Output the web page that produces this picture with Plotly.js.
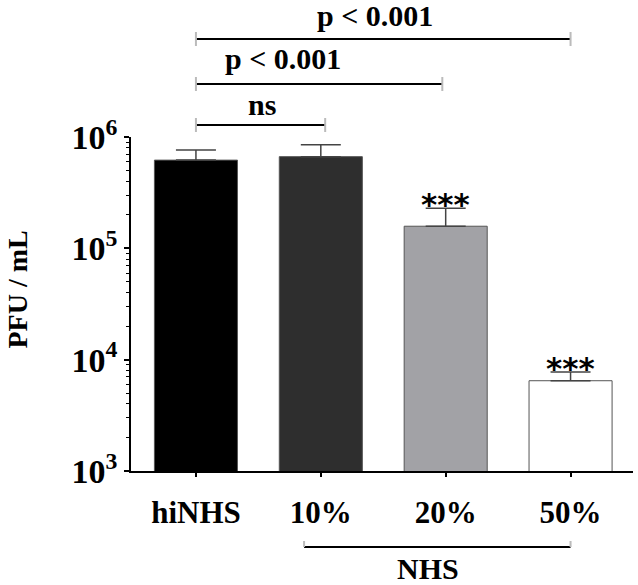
<!DOCTYPE html>
<html>
<head>
<meta charset="utf-8">
<script src="https://cdn.plot.ly/plotly-3.0.1.min.js"></script>
<style>
  body { margin: 0; background: #fff; }
  #chart { width: 638px; height: 585px; }
</style>
</head>
<body>
<div id="chart"></div>
<script>
// PFU per mL after incubation with serum
var groups = ['hiNHS', '10%', '20%', '50%'];
var pfu = [620000, 666000, 158000, 6470];
var errUp = [144000, 187000, 71000, 1270];
var barColors = ['#000000', '#2e2e2e', '#a2a2a6', '#ffffff'];
var stars = ['', '', '***', '***'];
var yTickVals = [1e3, 1e4, 1e5, 1e6];
var yTickText = ['10<sup>3</sup>', '10<sup>4</sup>', '10<sup>5</sup>', '10<sup>6</sup>'];

// comparison brackets: [from, to, label]
var brackets = [
  { x0: 0, x1: 3, y: 1.2934, label: 'p < 0.001', lx: 1.435, ly: 1.3623 },
  { x0: 0, x1: 1.973, y: 1.1587, label: 'p < 0.001', lx: 0.70, ly: 1.2365 },
  { x0: 0, x1: 1.035, y: 1.0359, label: 'ns', lx: 0.53, ly: 1.0988 }
];

var serif = { family: 'Liberation Serif, Times New Roman, serif', size: 30, color: '#000', weight: 'bold' };

var trace = {
  type: 'bar',
  x: groups,
  y: pfu,
  width: 0.665,
  marker: { color: barColors, line: { color: '#555', width: 1 } },
  error_y: {
    type: 'data', symmetric: false,
    array: errUp, arrayminus: pfu.map(function() { return 0; }),
    color: '#444', thickness: 1.5, width: 20
  },
  hoverinfo: 'x+y'
};

var shapes = [];
var annotations = [];
brackets.forEach(function(b) {
  shapes.push({ type: 'line', xref: 'x', yref: 'paper', x0: b.x0, x1: b.x1, y0: b.y, y1: b.y,
    line: { color: '#000', width: 2 } });
  [b.x0, b.x1].forEach(function(xx) {
    shapes.push({ type: 'line', xref: 'x', yref: 'paper', x0: xx, x1: xx, y0: b.y - 0.021, y1: b.y + 0.021,
      line: { color: '#bbb', width: 2 } });
  });
  annotations.push({ xref: 'x', yref: 'paper', x: b.lx, y: b.ly, text: b.label, showarrow: false,
    xanchor: 'center', yanchor: 'middle', font: serif });
});

// NHS bracket under the axis
shapes.push({ type: 'line', xref: 'x', yref: 'paper', x0: 0.866, x1: 3, y0: -0.2275, y1: -0.2275,
  line: { color: '#000', width: 2 } });
[0.866, 3].forEach(function(xx) {
  shapes.push({ type: 'line', xref: 'x', yref: 'paper', x0: xx, x1: xx, y0: -0.2275, y1: -0.2096,
    line: { color: '#bbb', width: 2 } });
});
annotations.push({ xref: 'x', yref: 'paper', x: 1.86, y: -0.293, text: 'NHS', showarrow: false,
  xanchor: 'center', yanchor: 'middle', font: serif });

// significance stars above error bars
groups.forEach(function(g, i) {
  if (!stars[i]) return;
  annotations.push({ xref: 'x', yref: 'y', x: g, y: Math.log10(pfu[i] + errUp[i]), yshift: 4,
    text: stars[i], showarrow: false, xanchor: 'center', yanchor: 'middle',
    font: { family: 'DejaVu Sans, sans-serif', size: 31, color: '#000', weight: 'bold' } });
});

// y title as an annotation so it can sit slightly above centre
annotations.push({ xref: 'paper', yref: 'paper', x: -0.226, y: 0.542, text: 'PFU / mL', textangle: -90,
  showarrow: false, xanchor: 'center', yanchor: 'middle',
  font: { family: serif.family, size: 28, color: '#000', weight: 'bold' } });

var layout = {
  width: 638,
  height: 585,
  margin: { l: 131, r: 5, t: 137, b: 114 },
  paper_bgcolor: '#fff',
  plot_bgcolor: '#fff',
  showlegend: false,
  xaxis: {
    type: 'category',
    range: [-0.52, 3.5],
    showline: true, linecolor: '#000', linewidth: 1.5,
    ticks: 'outside', ticklen: 4, tickcolor: '#000', tickwidth: 1.5,
    ticklabelstandoff: 9,
    tickfont: { family: serif.family, size: 31, color: '#000', weight: 'bold' },
    showgrid: false, zeroline: false
  },
  yaxis: {
    type: 'log',
    range: [3, 6],
    showline: true, linecolor: '#000', linewidth: 1.5,
    ticks: 'outside', ticklen: 5, tickcolor: '#000', tickwidth: 1.5,
    tickvals: yTickVals, ticktext: yTickText,
    tickfont: { family: serif.family, size: 34, color: '#000', weight: 'bold' },
    minor: { ticks: 'outside', ticklen: 3, tickcolor: '#000', tickwidth: 1, dtick: 'D1', showgrid: false },
    showgrid: false, zeroline: false
  },
  shapes: shapes,
  annotations: annotations
};

Plotly.newPlot('chart', [trace], layout, { displayModeBar: false, displaylogo: false });
</script>
</body>
</html>
